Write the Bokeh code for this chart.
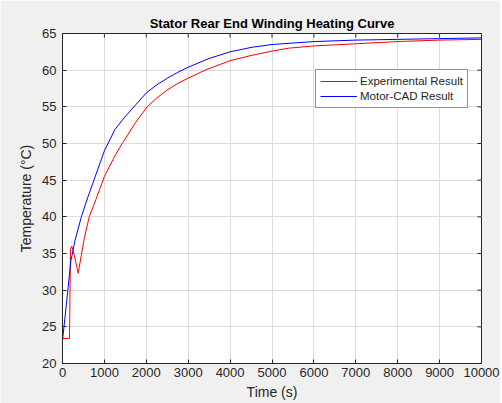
from bokeh.plotting import figure
from bokeh.models import Range1d, FixedTicker, Legend, LegendItem
from bokeh.embed import file_html
from bokeh.resources import INLINE

# ---- data ----
exp_time = [0, 167, 190, 220, 260, 375, 450, 525, 637, 800, 1000, 1250, 1424, 1750,
            2021, 2250, 2500, 2750, 3000, 3400, 4000, 4500, 5000, 5400, 6000, 7000, 8000, 9000, 10000]
exp_temp = [23.4, 23.4, 35.6, 36.0, 35.3, 32.3, 34.8, 37.2, 40.0, 42.4, 45.5, 48.3, 50.0, 52.9,
            55.0, 56.2, 57.3, 58.2, 58.9, 60.0, 61.3, 62.0, 62.6, 63.0, 63.3, 63.6, 63.9, 64.1, 64.2]

cad_time = [0, 100, 200, 300, 450, 600, 750, 900, 1000, 1250, 1500, 1750, 2000, 2250, 2500,
            2750, 3000, 3500, 4000, 4500, 5000, 6000, 7000, 8000, 9000, 10000]
cad_temp = [23.1, 28.5, 34.0, 36.8, 40.0, 42.6, 45.0, 47.4, 49.0, 51.9, 53.7, 55.3, 56.9, 58.0, 58.9,
            59.7, 60.4, 61.6, 62.5, 63.1, 63.5, 63.9, 64.1, 64.2, 64.3, 64.4]

x_ticks = [0, 1000, 2000, 3000, 4000, 5000, 6000, 7000, 8000, 9000, 10000]
y_ticks = [20, 25, 30, 35, 40, 45, 50, 55, 60, 65]

title_text = "Stator Rear End Winding Heating Curve"
x_label = "Time (s)"
y_label = "Temperature (°C)"
series_names = ["Experimental Result", "Motor-CAD Result"]

FONT = "Liberation Sans"
TXT = "#262626"
BG = "#f0f0f0"

X0, X1 = 0, 10000
Y0, Y1 = 20, 65
W, H = 500, 403
BL, BR, BT, BB = 62, 19, 33, 40

p = figure(width=W, height=H, output_backend="svg", toolbar_location=None,
           x_range=Range1d(X0, X1), y_range=Range1d(Y0, Y1),
           min_border_left=BL, min_border_right=BR, min_border_top=BT, min_border_bottom=BB,
           background_fill_color="white", border_fill_color=BG)

p.title.text = title_text
p.title.align = "center"
p.title.text_font = FONT
p.title.text_font_size = "13px"
p.title.text_font_style = "bold"
p.title.text_color = "black"
p.title.standoff = 5

p.outline_line_color = TXT
p.outline_line_width = 1

for ax in (p.xaxis[0], p.yaxis[0]):
    ax.major_label_text_font = FONT
    ax.major_label_text_font_size = "13px"
    ax.major_label_text_color = TXT
    ax.axis_label_text_font = FONT
    ax.axis_label_text_font_size = "14px"
    ax.axis_label_text_font_style = "normal"
    ax.axis_label_text_color = TXT
    ax.axis_line_color = TXT
    ax.major_tick_line_color = TXT
    ax.major_tick_in = 4
    ax.major_tick_out = 0
    ax.minor_tick_line_color = None

p.xaxis[0].ticker = FixedTicker(ticks=x_ticks)
p.yaxis[0].ticker = FixedTicker(ticks=y_ticks)
p.xaxis[0].axis_label = x_label
p.yaxis[0].axis_label = y_label
p.xaxis[0].major_label_standoff = 4
p.xaxis[0].axis_label_standoff = 4
p.yaxis[0].major_label_standoff = 6
p.yaxis[0].axis_label_standoff = 5

p.xgrid.ticker = FixedTicker(ticks=x_ticks)
p.ygrid.ticker = FixedTicker(ticks=y_ticks)
p.grid.grid_line_color = "#dcdcdc"
p.grid.grid_line_width = 1

# inward tick marks on the top and right edges (MATLAB box style), 4 px long
frame_w = W - BL - BR
frame_h = H - BT - BB
tick_dy = 4 * (Y1 - Y0) / frame_h
tick_dx = 4 * (X1 - X0) / frame_w
p.segment(x0=x_ticks, y0=[Y1] * len(x_ticks), x1=x_ticks, y1=[Y1 - tick_dy] * len(x_ticks),
          line_color=TXT, line_width=1)
p.segment(x0=[X1] * len(y_ticks), y0=y_ticks, x1=[X1 - tick_dx] * len(y_ticks), y1=y_ticks,
          line_color=TXT, line_width=1)

r1 = p.line(exp_time, exp_temp, line_color="#ff0000", line_width=1)
r2 = p.line(cad_time, cad_temp, line_color="#0000ff", line_width=1)

legend = Legend(items=[LegendItem(label=series_names[0], renderers=[r1]),
                       LegendItem(label=series_names[1], renderers=[r2])],
                location=(253, 255))
legend.label_text_font = FONT
legend.label_text_font_size = "11.5px"
legend.label_text_color = TXT
legend.glyph_width = 37
legend.glyph_height = 14
legend.label_height = 14
legend.label_standoff = 3
legend.spacing = 1
legend.padding = 4
legend.margin = 0
legend.border_line_color = TXT
legend.border_line_width = 1
legend.background_fill_color = "white"
legend.background_fill_alpha = 1
p.add_layout(legend, "center")

open("out.html", "w").write(file_html(p, INLINE))
